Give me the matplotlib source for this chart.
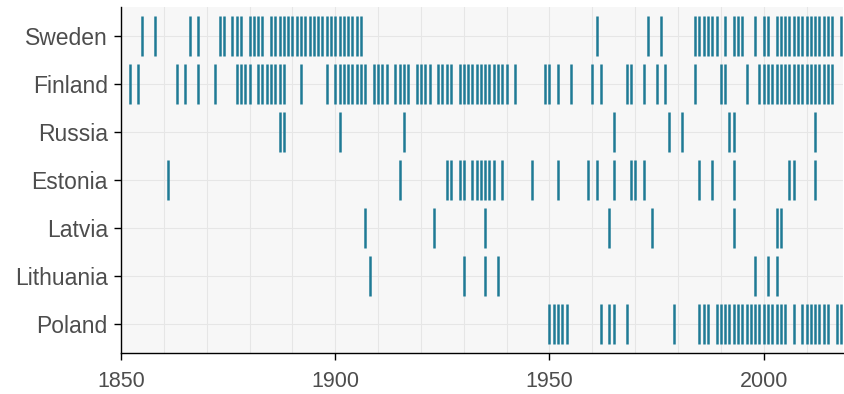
import matplotlib
matplotlib.use("Agg")
import matplotlib.pyplot as plt
from matplotlib.ticker import MultipleLocator

countries = ["Sweden", "Finland", "Russia", "Estonia", "Latvia", "Lithuania", "Poland"]

sweden = [1855, 1858, 1866, 1868, 1873, 1874, 1876, 1877, 1878, 1880, 1881, 1882, 1883,
          1885, 1886, 1887, 1888, 1889, 1890, 1891, 1892, 1893, 1894, 1895, 1896, 1897,
          1898, 1899, 1900, 1901, 1902, 1903, 1904, 1905, 1906,
          1961, 1973, 1976, 1984, 1985, 1986, 1987, 1988, 1989, 1991, 1993, 1994, 1995,
          1998, 2000, 2001, 2003, 2004, 2005, 2006, 2007, 2008, 2009, 2010, 2011, 2012,
          2013, 2014, 2015, 2016, 2018]
finland = [1852, 1854, 1863, 1865, 1868, 1872, 1877, 1878, 1879, 1880,
           1882, 1883, 1884, 1885, 1886, 1887, 1888, 1892, 1898,
           1900, 1901, 1902, 1903, 1904, 1905, 1906, 1907, 1909, 1910, 1911, 1912,
           1914, 1915, 1916, 1917, 1919, 1920, 1921, 1922, 1924, 1925, 1926, 1927,
           1929, 1930, 1931, 1932, 1933, 1934, 1935, 1936, 1937, 1938, 1939, 1940, 1942,
           1949, 1950, 1952, 1955, 1960, 1962, 1968, 1969, 1972, 1975, 1977, 1984,
           1990, 1991, 1996, 1999, 2000, 2001, 2002, 2003, 2004, 2005, 2006, 2007, 2008,
           2009, 2010, 2011, 2012, 2013, 2014, 2015, 2016]
russia = [1887, 1888, 1901, 1916, 1965, 1978, 1981, 1992, 1993, 2012]
estonia = [1861, 1915, 1926, 1927, 1929, 1930, 1932, 1933, 1934, 1935, 1936, 1937, 1939,
           1946, 1952, 1959, 1961, 1965, 1969, 1970, 1972, 1985, 1988, 1993, 2006, 2007, 2012]
latvia = [1907, 1923, 1935, 1964, 1974, 1993, 2003, 2004]
lithuania = [1908, 1930, 1935, 1938, 1998, 2001, 2003]
poland = [1950, 1951, 1952, 1953, 1954, 1962, 1964, 1965, 1968, 1979, 1985, 1986, 1987,
          1989, 1990, 1991, 1992, 1993, 1994, 1995, 1996, 1997, 1998, 1999, 2000, 2001,
          2002, 2003, 2004, 2005, 2007, 2009, 2010, 2011, 2012, 2013, 2014, 2015, 2017, 2018]

series = [sweden, finland, russia, estonia, latvia, lithuania, poland]
x_ticks = [1850, 1900, 1950, 2000]

plt.rcParams['font.family'] = ['Liberation Sans', 'DejaVu Sans']

fig = plt.figure(figsize=(8.45, 3.94), dpi=100)
ax = fig.add_axes([121 / 845, (394 - 353) / 394, (843 - 121) / 845, (353 - 7) / 394])
ax.set_facecolor("#F7F7F7")

n = len(countries)
for i, (name, years) in enumerate(zip(countries, series)):
    y = n - i
    ax.vlines(years, y - 0.41, y + 0.41, color="#1F7A95", linewidth=1.8)

ax.set_xlim(1850, 2018.5)
ax.set_ylim(0.4, n + 0.6)
ax.set_yticks([n - i for i in range(n)])
ax.set_yticklabels(countries)
ax.set_xticks(x_ticks)
ax.xaxis.set_minor_locator(MultipleLocator(10))

ax.grid(True, which="both", axis="x", color="#E6E6E6", linewidth=0.8)
ax.grid(True, which="major", axis="y", color="#E6E6E6", linewidth=0.8)
ax.set_axisbelow(True)

for s in ["top", "right"]:
    ax.spines[s].set_visible(False)
for s in ["left", "bottom"]:
    ax.spines[s].set_color("black")
    ax.spines[s].set_linewidth(1.0)

ax.tick_params(axis="both", which="major", length=5, width=1.0, color="black",
               labelcolor="#4D4D4D")
ax.tick_params(axis="y", which="major", labelsize=16.5, pad=4.5)
ax.tick_params(axis="x", which="major", labelsize=15.5, pad=8)
ax.tick_params(axis="x", which="minor", length=0)

fig.savefig("out.png", dpi=100)
